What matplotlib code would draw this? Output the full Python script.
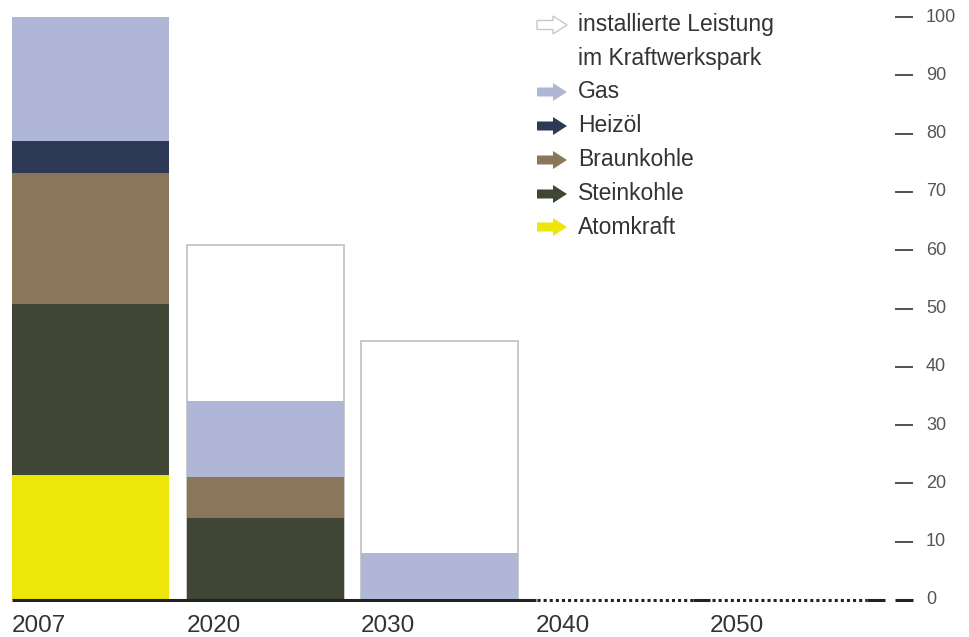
import matplotlib
matplotlib.use("Agg")
import matplotlib.pyplot as plt
from matplotlib.patches import Polygon

plt.rcParams['font.family'] = ['Liberation Sans', 'DejaVu Sans']

# ---- data ----
years = ['2007', '2020', '2030', '2040', '2050']
atomkraft = [21.4, 0, 0]
steinkohle = [29.4, 14.1, 0]
braunkohle = [22.4, 7.0, 0]
heizoel = [5.5, 0, 0]
gas = [21.3, 13.0, 8.1]
installiert = [None, 60.9, 44.4]
yticks = [0, 10, 20, 30, 40, 50, 60, 70, 80, 90, 100]

series = [('Atomkraft', atomkraft, '#ede60b'),
          ('Steinkohle', steinkohle, '#3f4635'),
          ('Braunkohle', braunkohle, '#8a775a'),
          ('Heizöl', heizoel, '#2e3956'),
          ('Gas', gas, '#b0b7d6')]

W, H = 969, 637
fig = plt.figure(figsize=(W / 100, H / 100), dpi=100)
ax = fig.add_axes([0, 0, 1, 1])
slot = 174.5
x0px = 12
ypx0 = 600
ppu = 5.83
ax.set_xlim(-x0px / slot, (W - x0px) / slot)
ax.set_ylim((ypx0 - H) / ppu, ypx0 / ppu)
ax.axis('off')

bw = 0.9
n = len(gas)
xs = list(range(n))

# installed capacity outlines
for i, cap in enumerate(installiert):
    if cap is not None:
        ax.bar(i, cap, width=bw, align='edge', facecolor='white',
               edgecolor='#c8c8c8', linewidth=1.4, zorder=1)

bottom = [0.0] * n
for name, vals, col in series:
    ax.bar(xs, vals, width=bw, bottom=bottom, align='edge', color=col,
           linewidth=0, zorder=2)
    bottom = [b + v for b, v in zip(bottom, vals)]

# baseline
lc = '#222222'
ax.plot([0, n], [0, 0], color=lc, lw=2.2, solid_capstyle='butt', zorder=3)
for i in range(n, len(years)):
    ax.plot([i + 0.01, i + bw], [0, 0], color=lc, lw=2.2,
            linestyle=(0, (1, 1)), dash_capstyle='butt', zorder=3)
    ax.plot([i + bw, i + 1], [0, 0], color=lc, lw=2.2,
            solid_capstyle='butt', zorder=3)

# year labels
for i, yr in enumerate(years):
    ax.text(i, (ypx0 - 626) / ppu, yr, ha='left', va='center',
            fontsize=17.5, color='#333333')

# right axis ticks
tx0 = (895 - x0px) / slot
tx1 = (913 - x0px) / slot
tl = (926 - x0px) / slot
for t in yticks:
    ax.plot([tx0, tx1], [t, t], color=lc, lw=2.2 if t == 0 else 1.1,
            solid_capstyle='butt')
    ax.text(tl, t, str(t), ha='left', va='center', fontsize=13,
            color='#555555')

# legend (in pixel coordinates)
lax = fig.add_axes([0, 0, 1, 1], facecolor='none')
lax.set_xlim(0, W)
lax.set_ylim(H, 0)
lax.axis('off')


def arrow(xa, yc, fc, ec):
    pts = [(xa, yc - 4.5), (xa + 16, yc - 4.5), (xa + 16, yc - 9),
           (xa + 30, yc), (xa + 16, yc + 9), (xa + 16, yc + 4.5),
           (xa, yc + 4.5)]
    lax.add_patch(Polygon(pts, closed=True, facecolor=fc, edgecolor=ec,
                          linewidth=1.0, joinstyle='miter'))


leg_y = [25, 92, 126, 160, 194, 227]
arrow(537, leg_y[0], 'white', '#c8c8c8')
lax.text(578, 25, 'installierte Leistung', ha='left', va='center',
         fontsize=16.5, color='#333333')
lax.text(578, 59, 'im Kraftwerkspark', ha='left', va='center',
         fontsize=16.5, color='#333333')
for (name, vals, col), yc in zip(reversed(series), leg_y[1:]):
    arrow(537, yc, col, 'none')
    lax.text(578, yc, name, ha='left', va='center', fontsize=16.5,
             color='#333333')

fig.savefig('out.png', dpi=100)
